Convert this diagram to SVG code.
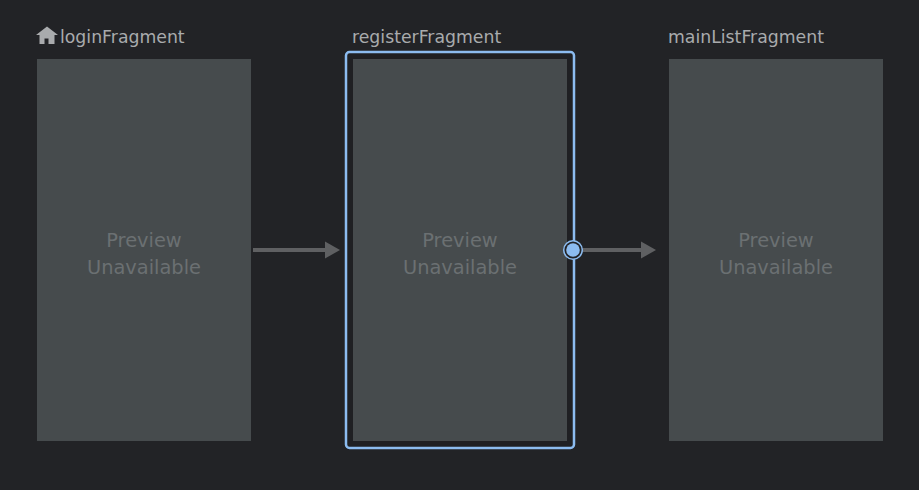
<svg xmlns="http://www.w3.org/2000/svg" width="919" height="490" viewBox="0 0 919 490">
<defs>
<style>
.bg{fill:#222326}
.screen{fill:#464b4d}
.label{font-family:"DejaVu Sans","Liberation Sans",sans-serif;font-size:17.3px;fill:#a9abad}
.pv{font-family:"DejaVu Sans","Liberation Sans",sans-serif;font-size:19.4px;fill:#6b7072;text-anchor:middle}
.edge{stroke:#5f6062;stroke-width:4;fill:none}
.head{fill:#5f6062}
</style>
</defs>
<rect class="bg" x="0" y="0" width="919" height="490"/>
<g id="loginFragment">
<path d="M47 26.5 L36 35 L39.5 35 L39.5 44 L44.5 44 L44.5 38.5 L48.5 38.5 L48.5 44 L54.5 44 L54.5 35 L58 35 Z" fill="#a9abad"/>
<text class="label" x="60" y="43">loginFragment</text>
<rect class="screen" x="37" y="59" width="214" height="382"/>
<text class="pv" x="144" y="247">Preview</text>
<text class="pv" x="144" y="274">Unavailable</text>
</g>
<g id="registerFragment">
<text class="label" x="352" y="43">registerFragment</text>
<rect x="346" y="52" width="228" height="396" rx="3.5" fill="#1f2023" stroke="#8cbcf0" stroke-width="2.5"/>
<rect class="screen" x="353" y="59" width="214" height="382"/>
<text class="pv" x="460" y="247">Preview</text>
<text class="pv" x="460" y="274">Unavailable</text>
</g>
<g id="mainListFragment">
<text class="label" x="668" y="43">mainListFragment</text>
<rect class="screen" x="669" y="59" width="214" height="382"/>
<text class="pv" x="776" y="247">Preview</text>
<text class="pv" x="776" y="274">Unavailable</text>
</g>
<g id="connectors">
<line class="edge" x1="253" y1="250" x2="327" y2="250"/>
<path class="head" d="M325 241.5 L340 250 L325 258.5 Z"/>
<line class="edge" x1="580" y1="250" x2="643" y2="250"/>
<path class="head" d="M641 241.5 L656 250 L641 258.5 Z"/>
<circle cx="573" cy="250" r="9.3" fill="#222326" stroke="#8cbcf0" stroke-width="1.5"/>
<circle cx="573" cy="250" r="6.8" fill="#8cbcf0"/>
</g>
</svg>
